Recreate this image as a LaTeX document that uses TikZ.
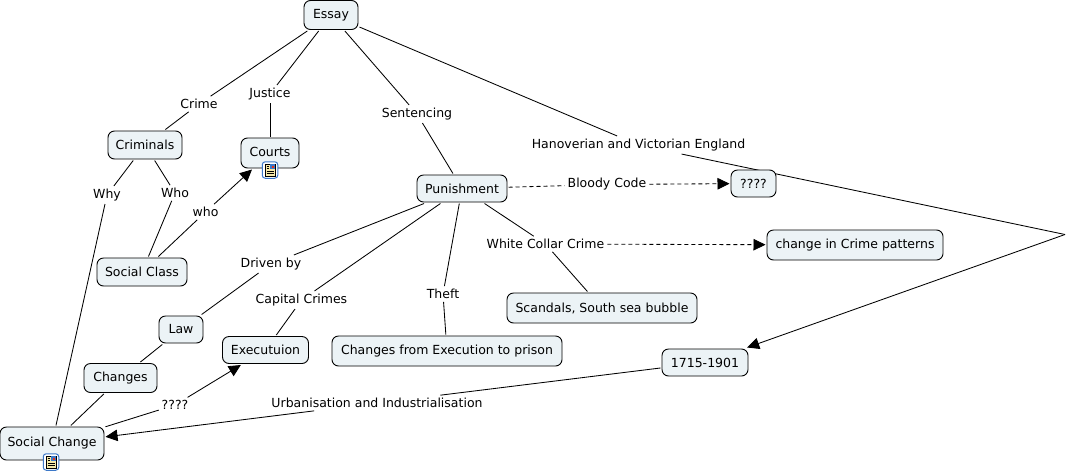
\documentclass[tikz,border=0pt]{standalone}
\usepackage{fontspec}
\setmainfont{DejaVu Sans}
\usetikzlibrary{arrows.meta,backgrounds}
\definecolor{conceptfill}{HTML}{ECF3F6}
\definecolor{iconblue}{HTML}{3C78C8}
\definecolor{iconpage}{HTML}{F5E9A8}
\tikzset{
  concept/.style={draw=black,line width=0.9pt,fill=conceptfill,rounded corners=6.5pt,inner sep=0pt,outer sep=1.5pt,
    font=\fontsize{12.5}{14}\selectfont,text=black},
  linklabel/.style={inner sep=2pt,outer sep=1pt,font=\fontsize{12.5}{14}\selectfont,text=black},
  link/.style={draw=black,line width=0.85pt},
  arrowlink/.style={link,-{Triangle[length=12pt,width=11.5pt]}},
  dashlink/.style={arrowlink,dash pattern=on 4pt off 3pt},
}
\newcommand{\docicon}[3]{%
  \node[draw=iconblue,line width=1pt,fill=white,rounded corners=3pt,minimum width=15.5pt,minimum height=16.5pt,inner sep=0pt] (#1) at (#2,#3) {};
  \fill[iconpage,draw=black,line width=0.5pt] (#2-5,#3-6) rectangle (#2+5,#3+6);
  \fill[iconblue] (#2,#3-6) rectangle (#2+5,#3-1.5);
  \fill[red!60!brown] (#2+2,#3-4) rectangle (#2+4,#3-2.5);
  \draw[black,line width=0.7pt] (#2-3.5,#3-4) -- (#2-1,#3-4) (#2-3.5,#3-1.5) -- (#2-1,#3-1.5) (#2-3.5,#3+1) -- (#2+3.5,#3+1) (#2-3.5,#3+3.5) -- (#2+3.5,#3+3.5);
}
\begin{document}
\begin{tikzpicture}[x=1pt,y=-1pt]
\useasboundingbox (0,0) rectangle (1067,472);
% concepts
\node[concept,minimum width=54pt,minimum height=29pt] (essay) at (331,15) {\raisebox{1pt}{Essay}};
\node[concept,minimum width=74pt,minimum height=28pt] (criminals) at (145,145) {Criminals};
\node[concept,minimum width=58pt,minimum height=30pt] (courts) at (270,153) {\raisebox{3pt}{Courts}};
\node[concept,minimum width=90pt,minimum height=27pt] (punishment) at (462,188.5) {Punishment};
\node[concept,minimum width=45pt,minimum height=27pt] (unknownA) at (753.5,183.5) {????};
\node[concept,minimum width=90pt,minimum height=28pt] (socialclass) at (142,272) {Social Class};
\node[concept,minimum width=176pt,minimum height=30pt] (patterns) at (855,245) {change in Crime patterns};
\node[concept,minimum width=190pt,minimum height=30pt] (scandals) at (602,308) {Scandals, South sea bubble};
\node[concept,minimum width=44pt,minimum height=27pt] (law) at (181,329.5) {Law};
\node[concept,minimum width=86pt,minimum height=27pt] (execution) at (265.5,350) {Executuion};
\node[concept,minimum width=73pt,minimum height=29pt] (changes) at (120.5,378) {Changes};
\node[concept,minimum width=230pt,minimum height=30pt] (prison) at (447,351) {Changes from Execution to prison};
\node[concept,minimum width=86pt,minimum height=27pt] (period) at (705,362.5) {1715-1901};
\node[concept,minimum width=104pt,minimum height=33pt] (socialchange) at (52,443.5) {\raisebox{3pt}{Social Change}};
% linking phrases
\node[linklabel] (crime) at (199,104) {Crime};
\node[linklabel] (justice) at (270,94) {Justice};
\node[linklabel] (sentencing) at (417,114) {Sentencing};
\node[linklabel] (hanover) at (638.5,145) {Hanoverian and Victorian England};
\node[linklabel] (why) at (107,195) {Why};
\node[linklabel] (who) at (175,193) {Who};
\node[linklabel] (whoB) at (205.5,212) {who};
\node[linklabel] (bloody) at (607,184.5) {Bloody Code};
\node[linklabel] (whitecollar) at (545.5,244) {White Collar Crime};
\node[linklabel] (driven) at (271,264) {Driven by};
\node[linklabel] (capital) at (301.5,300) {Capital Crimes};
\node[linklabel] (theft) at (443,294) {Theft};
\node[linklabel] (unknownB) at (175,405) {????};
\node[linklabel] (urban) at (377,403) {Urbanisation and Industrialisation};
\coordinate (bend) at (1065,234.5);
\docicon{courtsicon}{270}{170}
\docicon{changeicon}{51}{462}
% connectors
\begin{pgfonlayer}{background}
\fill[white] (0,0) rectangle (1067,472);
\draw[link] (essay) -- (crime);
\draw[link] (crime) -- (criminals);
\draw[link] (essay) -- (justice);
\draw[link] (justice) -- (courts);
\draw[link] (essay) -- (sentencing);
\draw[link] (sentencing) -- (punishment);
\draw[link] (essay) -- (hanover);
\draw[link] (hanover) -- (bend);
\draw[arrowlink] (bend) -- (period);
\draw[link] (criminals) -- (why);
\draw[link] (why) -- (socialchange);
\draw[link] (criminals) -- (who);
\draw[link] (who) -- (socialclass);
\draw[link] (socialclass) -- (whoB);
\draw[arrowlink] (whoB) -- (courts);
\draw[link,dash pattern=on 4pt off 3pt] (punishment) -- (bloody);
\draw[dashlink] (bloody) -- (unknownA);
\draw[link] (punishment) -- (whitecollar);
\draw[link] (whitecollar) -- (scandals);
\draw[dashlink] (whitecollar) -- (patterns);
\draw[link] (punishment) -- (driven);
\draw[link] (driven) -- (law);
\draw[link] (punishment) -- (capital);
\draw[link] (capital) -- (execution);
\draw[link] (punishment) -- (theft);
\draw[link] (theft) -- (prison);
\draw[link] (law) -- (changes);
\draw[link] (changes) -- (socialchange);
\draw[link] (socialchange) -- (unknownB);
\draw[arrowlink] (unknownB) -- (execution);
\draw[link] (period) -- (urban);
\draw[arrowlink] (urban) -- (socialchange);
\end{pgfonlayer}
\end{tikzpicture}
\end{document}
